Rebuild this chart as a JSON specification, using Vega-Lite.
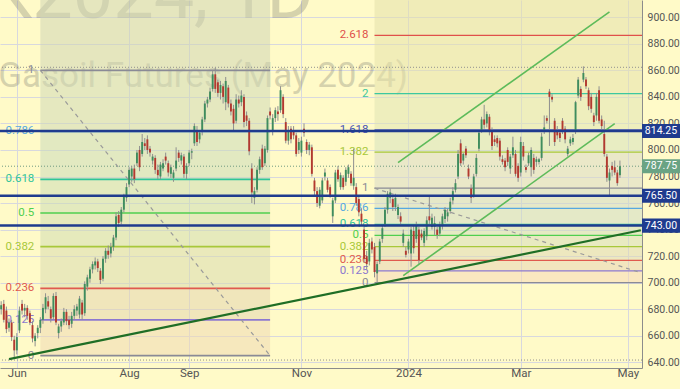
{
"$schema": "https://vega.github.io/schema/vega-lite/v6.json",
"width": 642,
"height": 368,
"autosize": {"type": "none"},
"padding": {"left": 0, "top": 0, "right": 38, "bottom": 21},
"background": "#fffac8",
"config": {"view": {"stroke": null}, "font": "Roboto", "axis": {"labelOverlap": false, "labelFlush": false}},
"datasets": {
"candles": [
{"d":"2023-05-24","o":680,"h":686,"l":676,"c":683},{"d":"2023-05-25","o":684,"h":687,"l":670,"c":672},{"d":"2023-05-26","o":679,"h":682,"l":662,"c":665},{"d":"2023-05-29","o":666,"h":673,"l":663,"c":670},{"d":"2023-05-30","o":670,"h":672,"l":656,"c":659},{"d":"2023-05-31","o":657,"h":660,"l":644,"c":649},
{"d":"2023-06-01","o":649,"h":662,"l":646,"c":659},{"d":"2023-06-02","o":664,"h":682,"l":662,"c":679},{"d":"2023-06-05","o":684,"h":687,"l":676,"c":679},{"d":"2023-06-06","o":679,"h":684,"l":674,"c":681},{"d":"2023-06-07","o":681,"h":683,"l":672,"c":675},{"d":"2023-06-08","o":677,"h":679,"l":668,"c":670},{"d":"2023-06-09","o":668,"h":671,"l":655,"c":658},{"d":"2023-06-12","o":656,"h":662,"l":652,"c":660},{"d":"2023-06-13","o":662,"h":668,"l":658,"c":666},{"d":"2023-06-14","o":666,"h":674,"l":662,"c":672},{"d":"2023-06-15","o":672,"h":684,"l":669,"c":681},{"d":"2023-06-16","o":680,"h":692,"l":677,"c":689},{"d":"2023-06-19","o":686,"h":690,"l":680,"c":682},{"d":"2023-06-20","o":680,"h":682,"l":670,"c":673},{"d":"2023-06-21","o":674,"h":692,"l":672,"c":690},{"d":"2023-06-22","o":690,"h":693,"l":668,"c":670},{"d":"2023-06-23","o":662,"h":669,"l":658,"c":667},{"d":"2023-06-26","o":667,"h":673,"l":663,"c":671},{"d":"2023-06-27","o":670,"h":681,"l":668,"c":678},{"d":"2023-06-28","o":678,"h":680,"l":668,"c":671},{"d":"2023-06-29","o":672,"h":675,"l":665,"c":668},{"d":"2023-06-30","o":669,"h":678,"l":666,"c":675},
{"d":"2023-07-03","o":675,"h":683,"l":672,"c":680},{"d":"2023-07-04","o":679,"h":684,"l":675,"c":682},{"d":"2023-07-05","o":676,"h":690,"l":673,"c":688},{"d":"2023-07-06","o":685,"h":687,"l":672,"c":676},{"d":"2023-07-07","o":677,"h":701,"l":675,"c":699},{"d":"2023-07-10","o":697,"h":706,"l":694,"c":704},{"d":"2023-07-11","o":703,"h":712,"l":700,"c":710},{"d":"2023-07-12","o":710,"h":716,"l":707,"c":714},{"d":"2023-07-13","o":713,"h":719,"l":710,"c":716},{"d":"2023-07-14","o":716,"h":718,"l":708,"c":711},{"d":"2023-07-17","o":709,"h":711,"l":699,"c":702},{"d":"2023-07-18","o":703,"h":720,"l":701,"c":718},{"d":"2023-07-19","o":718,"h":726,"l":715,"c":724},{"d":"2023-07-20","o":724,"h":728,"l":718,"c":721},{"d":"2023-07-21","o":722,"h":730,"l":719,"c":727},{"d":"2023-07-24","o":727,"h":736,"l":724,"c":734},{"d":"2023-07-25","o":734,"h":753,"l":732,"c":750},{"d":"2023-07-26","o":751,"h":754,"l":742,"c":745},{"d":"2023-07-27","o":746,"h":757,"l":744,"c":755},{"d":"2023-07-28","o":755,"h":767,"l":753,"c":765},{"d":"2023-07-31","o":764,"h":775,"l":761,"c":772},
{"d":"2023-08-01","o":774,"h":787,"l":772,"c":785},{"d":"2023-08-02","o":780,"h":788,"l":776,"c":786},{"d":"2023-08-03","o":786,"h":789,"l":775,"c":778},{"d":"2023-08-04","o":790,"h":800,"l":788,"c":798},{"d":"2023-08-07","o":800,"h":803,"l":784,"c":787},{"d":"2023-08-08","o":797,"h":812,"l":795,"c":806},{"d":"2023-08-09","o":805,"h":809,"l":800,"c":803},{"d":"2023-08-10","o":808,"h":811,"l":797,"c":800},{"d":"2023-08-11","o":801,"h":803,"l":795,"c":798},{"d":"2023-08-14","o":792,"h":797,"l":789,"c":795},{"d":"2023-08-15","o":794,"h":796,"l":782,"c":785},{"d":"2023-08-16","o":785,"h":789,"l":778,"c":781},{"d":"2023-08-17","o":780,"h":791,"l":778,"c":789},{"d":"2023-08-18","o":786,"h":793,"l":784,"c":790},{"d":"2023-08-21","o":795,"h":798,"l":789,"c":792},{"d":"2023-08-22","o":790,"h":792,"l":780,"c":783},{"d":"2023-08-23","o":782,"h":789,"l":779,"c":787},{"d":"2023-08-24","o":779,"h":785,"l":776,"c":783},{"d":"2023-08-25","o":786,"h":802,"l":784,"c":792},{"d":"2023-08-28","o":798,"h":800,"l":791,"c":794},{"d":"2023-08-29","o":792,"h":798,"l":789,"c":796},{"d":"2023-08-30","o":795,"h":797,"l":779,"c":782},{"d":"2023-08-31","o":782,"h":790,"l":778,"c":788},
{"d":"2023-09-01","o":790,"h":800,"l":788,"c":798},{"d":"2023-09-04","o":798,"h":801,"l":793,"c":799},{"d":"2023-09-05","o":805,"h":820,"l":803,"c":818},{"d":"2023-09-06","o":815,"h":818,"l":803,"c":806},{"d":"2023-09-07","o":808,"h":815,"l":805,"c":813},{"d":"2023-09-08","o":814,"h":825,"l":811,"c":823},{"d":"2023-09-11","o":823,"h":837,"l":821,"c":835},{"d":"2023-09-12","o":835,"h":840,"l":832,"c":838},{"d":"2023-09-13","o":838,"h":847,"l":836,"c":844},{"d":"2023-09-14","o":846,"h":860,"l":844,"c":857},{"d":"2023-09-15","o":857,"h":862,"l":843,"c":846},{"d":"2023-09-18","o":851,"h":853,"l":840,"c":843},{"d":"2023-09-19","o":843,"h":852,"l":838,"c":849},{"d":"2023-09-20","o":848,"h":850,"l":835,"c":840},{"d":"2023-09-21","o":836,"h":855,"l":830,"c":852},{"d":"2023-09-22","o":847,"h":849,"l":832,"c":835},{"d":"2023-09-25","o":835,"h":838,"l":826,"c":829},{"d":"2023-09-26","o":831,"h":834,"l":815,"c":820},{"d":"2023-09-27","o":822,"h":842,"l":820,"c":838},{"d":"2023-09-28","o":838,"h":841,"l":832,"c":835},{"d":"2023-09-29","o":836,"h":845,"l":833,"c":841},
{"d":"2023-10-02","o":840,"h":842,"l":817,"c":821},{"d":"2023-10-03","o":826,"h":829,"l":818,"c":822},{"d":"2023-10-04","o":822,"h":824,"l":796,"c":799},{"d":"2023-10-05","o":786,"h":790,"l":760,"c":768},{"d":"2023-10-06","o":764,"h":772,"l":759,"c":769},{"d":"2023-10-09","o":770,"h":787,"l":768,"c":785},{"d":"2023-10-10","o":785,"h":795,"l":782,"c":793},{"d":"2023-10-11","o":801,"h":804,"l":785,"c":787},{"d":"2023-10-12","o":790,"h":803,"l":788,"c":801},{"d":"2023-10-13","o":800,"h":826,"l":798,"c":824},{"d":"2023-10-16","o":829,"h":832,"l":823,"c":826},{"d":"2023-10-17","o":815,"h":827,"l":811,"c":824},{"d":"2023-10-18","o":824,"h":832,"l":821,"c":830},{"d":"2023-10-19","o":829,"h":833,"l":822,"c":827},{"d":"2023-10-20","o":830,"h":848,"l":828,"c":845},{"d":"2023-10-23","o":840,"h":842,"l":824,"c":827},{"d":"2023-10-24","o":821,"h":824,"l":805,"c":807},{"d":"2023-10-25","o":807,"h":818,"l":804,"c":815},{"d":"2023-10-26","o":816,"h":818,"l":805,"c":808},{"d":"2023-10-27","o":814,"h":818,"l":808,"c":811},{"d":"2023-10-30","o":811,"h":813,"l":795,"c":797},{"d":"2023-10-31","o":800,"h":809,"l":797,"c":806},
{"d":"2023-11-01","o":798,"h":810,"l":795,"c":807},{"d":"2023-11-02","o":816,"h":820,"l":810,"c":813},{"d":"2023-11-03","o":806,"h":808,"l":797,"c":800},{"d":"2023-11-06","o":800,"h":806,"l":796,"c":804},{"d":"2023-11-07","o":802,"h":804,"l":780,"c":782},{"d":"2023-11-08","o":777,"h":779,"l":766,"c":769},{"d":"2023-11-09","o":769,"h":772,"l":757,"c":760},{"d":"2023-11-10","o":758,"h":772,"l":756,"c":770},{"d":"2023-11-13","o":762,"h":779,"l":760,"c":777},{"d":"2023-11-14","o":780,"h":786,"l":777,"c":783},{"d":"2023-11-15","o":777,"h":779,"l":768,"c":770},{"d":"2023-11-16","o":772,"h":774,"l":764,"c":766},{"d":"2023-11-17","o":750,"h":764,"l":745,"c":762},{"d":"2023-11-20","o":762,"h":785,"l":760,"c":783},{"d":"2023-11-21","o":785,"h":788,"l":776,"c":778},{"d":"2023-11-22","o":772,"h":783,"l":770,"c":781},{"d":"2023-11-23","o":779,"h":781,"l":770,"c":772},{"d":"2023-11-24","o":776,"h":787,"l":773,"c":785},{"d":"2023-11-27","o":782,"h":789,"l":779,"c":787},{"d":"2023-11-28","o":782,"h":784,"l":773,"c":775},{"d":"2023-11-29","o":773,"h":801,"l":770,"c":779},{"d":"2023-11-30","o":772,"h":775,"l":758,"c":760},
{"d":"2023-12-01","o":763,"h":766,"l":750,"c":753},{"d":"2023-12-04","o":752,"h":756,"l":743,"c":746},{"d":"2023-12-05","o":740,"h":742,"l":715,"c":718},{"d":"2023-12-06","o":720,"h":724,"l":710,"c":714},{"d":"2023-12-07","o":716,"h":733,"l":713,"c":730},{"d":"2023-12-08","o":731,"h":734,"l":722,"c":725},{"d":"2023-12-11","o":727,"h":730,"l":704,"c":708},{"d":"2023-12-12","o":707,"h":716,"l":700,"c":714},{"d":"2023-12-13","o":716,"h":733,"l":714,"c":731},{"d":"2023-12-14","o":733,"h":743,"l":730,"c":741},{"d":"2023-12-15","o":744,"h":757,"l":742,"c":755},{"d":"2023-12-18","o":755,"h":769,"l":752,"c":767},{"d":"2023-12-19","o":764,"h":771,"l":760,"c":768},{"d":"2023-12-20","o":763,"h":766,"l":754,"c":757},{"d":"2023-12-21","o":757,"h":767,"l":754,"c":764},{"d":"2023-12-22","o":751,"h":759,"l":748,"c":757},{"d":"2023-12-27","o":750,"h":753,"l":743,"c":746},{"d":"2023-12-28","o":730,"h":740,"l":727,"c":737},{"d":"2023-12-29","o":724,"h":727,"l":719,"c":721},
{"d":"2024-01-02","o":725,"h":733,"l":722,"c":731},{"d":"2024-01-03","o":722,"h":742,"l":712,"c":740},{"d":"2024-01-04","o":739,"h":744,"l":722,"c":726},{"d":"2024-01-05","o":733,"h":746,"l":730,"c":743},{"d":"2024-01-08","o":740,"h":742,"l":714,"c":717},{"d":"2024-01-09","o":737,"h":740,"l":732,"c":734},{"d":"2024-01-10","o":730,"h":741,"l":727,"c":739},{"d":"2024-01-11","o":735,"h":750,"l":732,"c":747},{"d":"2024-01-12","o":750,"h":766,"l":744,"c":747},{"d":"2024-01-15","o":742,"h":752,"l":740,"c":749},{"d":"2024-01-16","o":742,"h":750,"l":736,"c":745},{"d":"2024-01-17","o":740,"h":742,"l":733,"c":736},{"d":"2024-01-18","o":737,"h":746,"l":735,"c":744},{"d":"2024-01-19","o":743,"h":752,"l":740,"c":750},{"d":"2024-01-22","o":748,"h":757,"l":745,"c":755},{"d":"2024-01-23","o":750,"h":756,"l":746,"c":753},{"d":"2024-01-24","o":754,"h":764,"l":752,"c":761},{"d":"2024-01-25","o":762,"h":772,"l":759,"c":769},{"d":"2024-01-26","o":770,"h":778,"l":768,"c":775},{"d":"2024-01-29","o":780,"h":800,"l":778,"c":797},{"d":"2024-01-30","o":805,"h":808,"l":788,"c":790},{"d":"2024-01-31","o":792,"h":798,"l":789,"c":797},
{"d":"2024-02-01","o":801,"h":803,"l":794,"c":796},{"d":"2024-02-02","o":786,"h":789,"l":778,"c":780},{"d":"2024-02-05","o":771,"h":774,"l":760,"c":764},{"d":"2024-02-06","o":766,"h":782,"l":764,"c":780},{"d":"2024-02-07","o":782,"h":797,"l":780,"c":794},{"d":"2024-02-08","o":801,"h":815,"l":799,"c":813},{"d":"2024-02-09","o":815,"h":825,"l":813,"c":823},{"d":"2024-02-12","o":823,"h":834,"l":816,"c":819},{"d":"2024-02-13","o":820,"h":829,"l":817,"c":827},{"d":"2024-02-14","o":825,"h":827,"l":811,"c":814},{"d":"2024-02-15","o":815,"h":817,"l":800,"c":803},{"d":"2024-02-16","o":808,"h":811,"l":803,"c":806},{"d":"2024-02-19","o":809,"h":811,"l":802,"c":805},{"d":"2024-02-20","o":807,"h":809,"l":792,"c":795},{"d":"2024-02-21","o":793,"h":796,"l":789,"c":791},{"d":"2024-02-22","o":792,"h":794,"l":784,"c":787},{"d":"2024-02-23","o":800,"h":802,"l":788,"c":791},{"d":"2024-02-26","o":786,"h":797,"l":782,"c":795},{"d":"2024-02-27","o":796,"h":810,"l":794,"c":802},{"d":"2024-02-28","o":797,"h":800,"l":780,"c":782},{"d":"2024-02-29","o":788,"h":790,"l":776,"c":779},
{"d":"2024-03-01","o":783,"h":810,"l":780,"c":806},{"d":"2024-03-04","o":803,"h":806,"l":792,"c":795},{"d":"2024-03-05","o":787,"h":789,"l":783,"c":785},{"d":"2024-03-06","o":790,"h":798,"l":788,"c":796},{"d":"2024-03-07","o":787,"h":802,"l":780,"c":800},{"d":"2024-03-08","o":794,"h":797,"l":782,"c":785},{"d":"2024-03-11","o":791,"h":795,"l":788,"c":793},{"d":"2024-03-12","o":791,"h":794,"l":789,"c":793},{"d":"2024-03-13","o":794,"h":813,"l":792,"c":810},{"d":"2024-03-14","o":814,"h":826,"l":812,"c":817},{"d":"2024-03-15","o":824,"h":826,"l":820,"c":822},{"d":"2024-03-18","o":844,"h":846,"l":803,"c":840},{"d":"2024-03-19","o":840,"h":842,"l":836,"c":838},{"d":"2024-03-20","o":822,"h":824,"l":803,"c":806},{"d":"2024-03-21","o":815,"h":818,"l":808,"c":811},{"d":"2024-03-22","o":813,"h":815,"l":806,"c":809},{"d":"2024-03-25","o":822,"h":824,"l":812,"c":815},{"d":"2024-03-26","o":816,"h":818,"l":805,"c":808},{"d":"2024-03-27","o":797,"h":803,"l":795,"c":801},{"d":"2024-03-28","o":805,"h":810,"l":803,"c":808},
{"d":"2024-04-02","o":806,"h":812,"l":804,"c":809},{"d":"2024-04-03","o":814,"h":837,"l":812,"c":836},{"d":"2024-04-04","o":841,"h":855,"l":839,"c":853},{"d":"2024-04-05","o":846,"h":848,"l":837,"c":840},{"d":"2024-04-08","o":853,"h":863,"l":851,"c":858},{"d":"2024-04-09","o":853,"h":855,"l":846,"c":848},{"d":"2024-04-10","o":845,"h":847,"l":830,"c":833},{"d":"2024-04-11","o":840,"h":843,"l":828,"c":831},{"d":"2024-04-12","o":826,"h":828,"l":818,"c":821},{"d":"2024-04-15","o":826,"h":843,"l":822,"c":840},{"d":"2024-04-16","o":845,"h":848,"l":820,"c":822},{"d":"2024-04-17","o":823,"h":826,"l":815,"c":818},{"d":"2024-04-18","o":812,"h":822,"l":795,"c":797},{"d":"2024-04-19","o":795,"h":797,"l":776,"c":779},{"d":"2024-04-22","o":777,"h":786,"l":766,"c":783},{"d":"2024-04-23","o":788,"h":791,"l":780,"c":785},{"d":"2024-04-24","o":787,"h":792,"l":781,"c":783},{"d":"2024-04-25","o":783,"h":785,"l":773,"c":775},{"d":"2024-04-26","o":781,"h":792,"l":779,"c":787.75}
],
"bandsL": [
{"band":"L1","lo":645,"hi":671.9,"d":"2023-06-14","d2":"2023-10-16"},{"band":"L2","lo":671.9,"hi":695.7,"d":"2023-06-14","d2":"2023-10-16"},{"band":"L3","lo":695.7,"hi":727.1,"d":"2023-06-14","d2":"2023-10-16"},{"band":"L4","lo":727.1,"hi":752.5,"d":"2023-06-14","d2":"2023-10-16"},{"band":"L5","lo":752.5,"hi":777.9,"d":"2023-06-14","d2":"2023-10-16"},{"band":"L6","lo":777.9,"hi":814,"d":"2023-06-14","d2":"2023-10-16"},{"band":"L7","lo":814,"hi":860,"d":"2023-06-14","d2":"2023-10-16"},{"band":"L8","lo":860,"hi":913,"d":"2023-06-14","d2":"2023-10-16"}
],
"bandsR": [
{"band":"R1","lo":700,"hi":708.9,"d":"2023-12-11"},{"band":"R2","lo":708.9,"hi":716.8,"d":"2023-12-11"},{"band":"R3","lo":716.8,"hi":727.2,"d":"2023-12-11"},{"band":"R4","lo":727.2,"hi":735.6,"d":"2023-12-11"},{"band":"R5","lo":735.6,"hi":744,"d":"2023-12-11"},{"band":"R6","lo":744,"hi":756,"d":"2023-12-11"},{"band":"R7","lo":756,"hi":771.2,"d":"2023-12-11"},{"band":"R8","lo":771.2,"hi":798.4,"d":"2023-12-11"},{"band":"R9","lo":798.4,"hi":815.2,"d":"2023-12-11"},{"band":"R10","lo":815.2,"hi":842.4,"d":"2023-12-11"},{"band":"R11","lo":842.4,"hi":886.4,"d":"2023-12-11"},{"band":"R12","lo":886.4,"hi":913,"d":"2023-12-11"}
],
"levelsL": [
{"lvl":"0","p":645,"d":"2023-06-14","d2":"2023-10-16"},{"lvl":"0.125","p":671.9,"d":"2023-06-14","d2":"2023-10-16"},{"lvl":"0.236","p":695.7,"d":"2023-06-14","d2":"2023-10-16"},{"lvl":"0.382","p":727.1,"d":"2023-06-14","d2":"2023-10-16"},{"lvl":"0.5","p":752.5,"d":"2023-06-14","d2":"2023-10-16"},{"lvl":"0.618","p":777.9,"d":"2023-06-14","d2":"2023-10-16"},{"lvl":"0.786","p":814,"d":"2023-06-14","d2":"2023-10-16"},{"lvl":"1","p":860,"d":"2023-06-14","d2":"2023-10-16"}
],
"levelsR": [
{"lvl":"0","p":700,"d":"2023-12-11"},{"lvl":"0.125","p":708.9,"d":"2023-12-11"},{"lvl":"0.236","p":716.8,"d":"2023-12-11"},{"lvl":"0.382","p":727.2,"d":"2023-12-11"},{"lvl":"0.5","p":735.6,"d":"2023-12-11"},{"lvl":"0.618","p":744,"d":"2023-12-11"},{"lvl":"0.786","p":756,"d":"2023-12-11"},{"lvl":"1","p":771.2,"d":"2023-12-11"},{"lvl":"1.382","p":798.4,"d":"2023-12-11"},{"lvl":"1.618","p":815.2,"d":"2023-12-11"},{"lvl":"2","p":842.4,"d":"2023-12-11"},{"lvl":"2.618","p":886.4,"d":"2023-12-11"}
],
"lines": [
{"id":"dashL","d":"2023-06-14","p":860},{"id":"dashL","d":"2023-10-16","p":645},
{"id":"dashR","d":"2023-12-11","p":771.2},{"id":"dashR","d":"2024-05-08","p":707.5},
{"id":"trend","d":"2023-05-29","p":642.4},{"id":"trend","d":"2024-05-08","p":739.5},
{"id":"chanU","d":"2023-12-22","p":790.5},{"id":"chanU","d":"2024-04-22","p":904},
{"id":"chanL","d":"2023-12-28","p":705.3},{"id":"chanL","d":"2024-04-24","p":819.8}
],
"tags": [
{"p":814.25,"k":"n"},{"p":787.75,"k":"g"},{"p":765.5,"k":"n"},{"p":743,"k":"n"}
],
"dots": [
{"p":862.3,"k":"h"},{"p":641.7,"k":"h"},{"p":787.75,"k":"g"}
]
},
"layer": [
{
"data": {"values": [{"t": "GK2024, 1D"}]},
"mark": {"type": "text", "align": "right", "baseline": "alphabetic", "fontSize": 72, "fill": "#78786e", "opacity": 0.3, "dx": 2},
"encoding": {
"x": {"datum": "2023-11-07", "type": "ordinal"},
"y": {"datum": 899.1, "type": "quantitative"},
"text": {"field": "t"}
}
},
{
"data": {"values": [{"t": "Gasoil Futures (May 2024)"}]},
"mark": {"type": "text", "align": "left", "baseline": "alphabetic", "fontSize": 35, "fill": "#78786e", "opacity": 0.3, "dx": -3},
"encoding": {
"x": {"datum": "2023-05-24", "type": "ordinal"},
"y": {"datum": 847.1, "type": "quantitative"},
"text": {"field": "t"}
}
},
{
"data": {"name": "bandsL"},
"mark": {"type": "rect", "opacity": 0.55},
"encoding": {
"x": {"field": "d", "type": "ordinal", "scale": {"type": "point"}},
"x2": {"field": "d2"},
"y": {"field": "lo", "type": "quantitative"},
"y2": {"field": "hi"},
"fill": {"field": "band", "type": "nominal", "legend": null,
 "scale": {"domain": ["L1","L2","L3","L4","L5","L6","L7","L8","R1","R2","R3","R4","R5","R6","R7","R8","R9","R10","R11","R12"],
 "range": ["#efd8b4","#e4d6b0","#d9dab0","#d2ddb2","#ccdcb6","#cbdbbb","#cfd9b8","#d0d6b6","#f6d9ba","#e8d4b6","#dfd9b8","#d6dcbc","#cfddc0","#cddbc6","#cfd9c8","#d8d9c8","#d6e1bd","#e0e3b4","#e6e2ac","#e4e0ac"]}}
}
},
{
"data": {"name": "bandsR"},
"mark": {"type": "rect", "opacity": 0.55},
"encoding": {
"x": {"field": "d", "type": "ordinal", "scale": {"type": "point"}},
"x2": {"value": "width"},
"y": {"field": "lo", "type": "quantitative"},
"y2": {"field": "hi"},
"fill": {"field": "band", "type": "nominal", "legend": null}
}
},
{
"data": {"name": "levelsL"},
"mark": {"type": "rule", "strokeWidth": 1.7},
"encoding": {
"x": {"field": "d", "type": "ordinal"},
"x2": {"field": "d2"},
"y": {"field": "p", "type": "quantitative"},
"color": {"field": "lvl", "type": "nominal", "legend": null,
 "scale": {"domain": ["0","0.125","0.236","0.382","0.5","0.618","0.786","1","1.382","1.618","2","2.618"],
 "range": ["#8a8a96","#8c78d0","#e05a4e","#a8c83a","#4fcf4f","#2fc49a","#56a8e0","#8a8a96","#a8c83a","#4a55b5","#3cc8a0","#e0504a"]}}
}
},
{
"data": {"name": "levelsR"},
"mark": {"type": "rule", "strokeWidth": 1.3},
"encoding": {
"x": {"field": "d", "type": "ordinal"},
"x2": {"value": "width"},
"y": {"field": "p", "type": "quantitative"},
"color": {"field": "lvl", "type": "nominal", "legend": null}
}
},
{
"data": {"name": "levelsL"},
"mark": {"type": "text", "align": "right", "baseline": "middle", "fontSize": 11.5, "dx": -6},
"encoding": {
"x": {"field": "d", "type": "ordinal"},
"y": {"field": "p", "type": "quantitative"},
"text": {"field": "lvl"},
"color": {"field": "lvl", "type": "nominal", "legend": null}
}
},
{
"data": {"name": "levelsR"},
"mark": {"type": "text", "align": "right", "baseline": "middle", "fontSize": 11.5, "dx": -6},
"encoding": {
"x": {"field": "d", "type": "ordinal"},
"y": {"field": "p", "type": "quantitative"},
"text": {"field": "lvl"},
"color": {"field": "lvl", "type": "nominal", "legend": null}
}
},
{
"data": {"name": "lines"},
"transform": [{"filter": {"field": "id", "oneOf": ["dashL", "dashR"]}}],
"mark": {"type": "line", "color": "#9a9a9a", "strokeWidth": 1.2, "strokeDash": [4, 4], "clip": true},
"encoding": {
"x": {"field": "d", "type": "ordinal"},
"y": {"field": "p", "type": "quantitative"},
"detail": {"field": "id"}
}
},
{
"data": {"name": "dots"},
"mark": {"type": "rule", "strokeWidth": 1, "strokeDash": [1, 2]},
"encoding": {
"y": {"field": "p", "type": "quantitative"},
"color": {"condition": {"test": "datum.k == 'g'", "value": "#6f9a80"}, "value": "#8f8f8f"}
}
},
{
"data": {"name": "candles"},
"encoding": {
"x": {"field": "d", "type": "ordinal",
 "scale": {"type": "point", "padding": 0.45, "domain": [
"2023-05-24","2023-05-25","2023-05-26","2023-05-29","2023-05-30","2023-05-31",
"2023-06-01","2023-06-02","2023-06-05","2023-06-06","2023-06-07","2023-06-08","2023-06-09","2023-06-12","2023-06-13","2023-06-14","2023-06-15","2023-06-16","2023-06-19","2023-06-20","2023-06-21","2023-06-22","2023-06-23","2023-06-26","2023-06-27","2023-06-28","2023-06-29","2023-06-30",
"2023-07-03","2023-07-04","2023-07-05","2023-07-06","2023-07-07","2023-07-10","2023-07-11","2023-07-12","2023-07-13","2023-07-14","2023-07-17","2023-07-18","2023-07-19","2023-07-20","2023-07-21","2023-07-24","2023-07-25","2023-07-26","2023-07-27","2023-07-28","2023-07-31",
"2023-08-01","2023-08-02","2023-08-03","2023-08-04","2023-08-07","2023-08-08","2023-08-09","2023-08-10","2023-08-11","2023-08-14","2023-08-15","2023-08-16","2023-08-17","2023-08-18","2023-08-21","2023-08-22","2023-08-23","2023-08-24","2023-08-25","2023-08-28","2023-08-29","2023-08-30","2023-08-31",
"2023-09-01","2023-09-04","2023-09-05","2023-09-06","2023-09-07","2023-09-08","2023-09-11","2023-09-12","2023-09-13","2023-09-14","2023-09-15","2023-09-18","2023-09-19","2023-09-20","2023-09-21","2023-09-22","2023-09-25","2023-09-26","2023-09-27","2023-09-28","2023-09-29",
"2023-10-02","2023-10-03","2023-10-04","2023-10-05","2023-10-06","2023-10-09","2023-10-10","2023-10-11","2023-10-12","2023-10-13","2023-10-16","2023-10-17","2023-10-18","2023-10-19","2023-10-20","2023-10-23","2023-10-24","2023-10-25","2023-10-26","2023-10-27","2023-10-30","2023-10-31",
"2023-11-01","2023-11-02","2023-11-03","2023-11-06","2023-11-07","2023-11-08","2023-11-09","2023-11-10","2023-11-13","2023-11-14","2023-11-15","2023-11-16","2023-11-17","2023-11-20","2023-11-21","2023-11-22","2023-11-23","2023-11-24","2023-11-27","2023-11-28","2023-11-29","2023-11-30",
"2023-12-01","2023-12-04","2023-12-05","2023-12-06","2023-12-07","2023-12-08","2023-12-11","2023-12-12","2023-12-13","2023-12-14","2023-12-15","2023-12-18","2023-12-19","2023-12-20","2023-12-21","2023-12-22","2023-12-27","2023-12-28","2023-12-29",
"2024-01-02","2024-01-03","2024-01-04","2024-01-05","2024-01-08","2024-01-09","2024-01-10","2024-01-11","2024-01-12","2024-01-15","2024-01-16","2024-01-17","2024-01-18","2024-01-19","2024-01-22","2024-01-23","2024-01-24","2024-01-25","2024-01-26","2024-01-29","2024-01-30","2024-01-31",
"2024-02-01","2024-02-02","2024-02-05","2024-02-06","2024-02-07","2024-02-08","2024-02-09","2024-02-12","2024-02-13","2024-02-14","2024-02-15","2024-02-16","2024-02-19","2024-02-20","2024-02-21","2024-02-22","2024-02-23","2024-02-26","2024-02-27","2024-02-28","2024-02-29",
"2024-03-01","2024-03-04","2024-03-05","2024-03-06","2024-03-07","2024-03-08","2024-03-11","2024-03-12","2024-03-13","2024-03-14","2024-03-15","2024-03-18","2024-03-19","2024-03-20","2024-03-21","2024-03-22","2024-03-25","2024-03-26","2024-03-27","2024-03-28",
"2024-04-02","2024-04-03","2024-04-04","2024-04-05","2024-04-08","2024-04-09","2024-04-10","2024-04-11","2024-04-12","2024-04-15","2024-04-16","2024-04-17","2024-04-18","2024-04-19","2024-04-22","2024-04-23","2024-04-24","2024-04-25","2024-04-26","2024-04-29","2024-04-30",
"2024-05-01","2024-05-02","2024-05-03","2024-05-06","2024-05-07","2024-05-08"]},
 "axis": {"title": null, "orient": "bottom",
  "values": ["2023-06-01","2023-08-01","2023-09-01","2023-11-01","2024-01-02","2024-03-01","2024-05-01"],
  "labelExpr": "datum.value == '2024-01-02' ? '2024' : datum.value == '2023-06-01' ? 'Jun' : datum.value == '2023-08-01' ? 'Aug' : datum.value == '2023-09-01' ? 'Sep' : datum.value == '2023-11-01' ? 'Nov' : datum.value == '2024-03-01' ? 'Mar' : 'May'",
  "labelAngle": 0, "labelAlign": "center", "labelFontSize": 11.5, "labelColor": "#555555", "labelPadding": 5, "labelOverlap": false, "labelFlush": false,
  "ticks": false, "grid": true, "gridColor": "#d8d8de", "gridWidth": 1, "domainColor": "#8c8c8c", "domainWidth": 1}}
},
"layer": [
{
"mark": {"type": "rule", "color": "#8f8f8f", "strokeWidth": 1},
"encoding": {
"y": {"field": "l", "type": "quantitative",
 "scale": {"domain": [635.7, 913], "nice": false, "zero": false},
 "axis": {"title": null, "orient": "right", "values": [640,660,680,700,720,740,760,780,800,820,840,860,880,900], "tickCount": 30,
  "format": ".2f", "labelFontSize": 10.5, "labelColor": "#555555", "labelPadding": 5, "ticks": false, "labelAlign": "left", "labelBaseline": "middle",
  "grid": true, "gridColor": "#d8d8de", "gridWidth": 1, "domainColor": "#8c8c8c", "domainWidth": 1, "labelOverlap": false, "labelFlush": false}},
"y2": {"field": "h"}
}
},
{
"mark": {"type": "rule", "strokeWidth": 1.9, "strokeCap": "butt"},
"encoding": {
"y": {"field": "o", "type": "quantitative"},
"y2": {"field": "c"},
"color": {"condition": {"test": "datum.c < datum.o", "value": "#b3392f"}, "value": "#3f8d5e"}
}
}
]
},
{
"data": {"name": "lines"},
"transform": [{"filter": {"field": "id", "equal": "trend"}}],
"mark": {"type": "line", "color": "#1f6e26", "strokeWidth": 2.2, "clip": true},
"encoding": {
"x": {"field": "d", "type": "ordinal"},
"y": {"field": "p", "type": "quantitative"}
}
},
{
"data": {"name": "lines"},
"transform": [{"filter": {"field": "id", "oneOf": ["chanU", "chanL"]}}],
"mark": {"type": "line", "color": "#5dbb5a", "strokeWidth": 1.6, "clip": true},
"encoding": {
"x": {"field": "d", "type": "ordinal"},
"y": {"field": "p", "type": "quantitative"},
"detail": {"field": "id"}
}
},
{
"data": {"name": "tags"},
"transform": [{"filter": {"field": "k", "equal": "n"}}],
"mark": {"type": "rule", "color": "#1f3b8e", "strokeWidth": 2.5},
"encoding": {
"y": {"field": "p", "type": "quantitative"}
}
},
{
"data": {"name": "tags"},
"mark": {"type": "point", "shape": "M0,-0.37H2V0.37H0Z", "size": 1444, "filled": true, "opacity": 1},
"encoding": {
"x": {"value": "width"},
"y": {"field": "p", "type": "quantitative"},
"color": {"condition": {"test": "datum.k == 'g'", "value": "#6aa384"}, "value": "#1f3b8e"}
}
},
{
"data": {"name": "tags"},
"mark": {"type": "text", "align": "center", "baseline": "middle", "fontSize": 10.5, "dx": 19, "color": "#ffffff"},
"encoding": {
"x": {"value": "width"},
"y": {"field": "p", "type": "quantitative"},
"text": {"field": "p", "type": "quantitative", "format": ".2f"}
}
}
]
}
